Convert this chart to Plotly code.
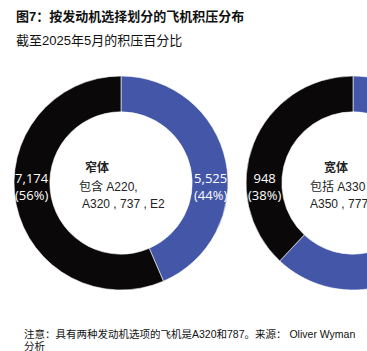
import plotly.graph_objects as go

# ---- data ----
categories = ["双发动机选项", "单发动机选项"]
narrow_values = [5525, 7174]     # blue, black
wide_values = [1547, 948]        # blue, black
narrow_pct = [44, 56]
wide_pct = [62, 38]
colors = ["#4356A7", "#0A0808"]

title = "图7：按发动机选择划分的飞机积压分布"
subtitle = "截至2025年5月的积压百分比"
footnote_lines = ["注意：具有两种发动机选项的飞机是A320和787。来源： Oliver Wyman", "分析"]

W, H = 470, 351
CJK = "Liberation Sans, Noto Sans CJK SC"

def px_x(x):
    return x / W

def px_y(y):
    return 1 - y / H

cy, r = 183, 107
fig = go.Figure()
for vals, cx in [(narrow_values, 121), (wide_values, 353)]:
    fig.add_trace(go.Pie(
        labels=categories, values=vals, hole=0.665, sort=False,
        direction="clockwise", rotation=0,
        marker=dict(colors=colors, line=dict(color="white", width=0.6)),
        textinfo="none", hoverinfo="skip", showlegend=False,
        domain=dict(x=[px_x(cx - r), px_x(cx + r)], y=[px_y(cy + r), px_y(cy - r)]),
    ))

annotations = []
def add_text(x, y, text, size=12, color="#222", bold=False, xanchor="left", family=CJK):
    annotations.append(dict(
        x=px_x(x), y=px_y(y), xref="paper", yref="paper", text=f"<b>{text}</b>" if bold else text,
        showarrow=False, xanchor=xanchor, yanchor="middle", align=xanchor if xanchor != "center" else "center",
        font=dict(size=size, color=color, family=family)))

# slice value labels
label_font = "Open Sans"
add_text(32, 187, f"{narrow_values[1]:,}<br>({narrow_pct[1]}%)", 13, "white", xanchor="center", family=label_font)
add_text(210, 187, f"{narrow_values[0]:,}<br>({narrow_pct[0]}%)", 13, "white", xanchor="center", family=label_font)
add_text(264, 187, f"{wide_values[1]:,}<br>({wide_pct[1]}%)", 13, "white", xanchor="center", family=label_font)

# center texts
add_text(83, 167, "窄体", 12, "#222", bold=True)
add_text(77, 187, "包含 A220,", 12)
add_text(80, 204, "A320 , 737 , E2", 12)
add_text(322, 167, "宽体", 12, "#222", bold=True)
add_text(308, 187, "包括 A330", 12)
add_text(308, 204, "A350 , 777", 12)

# titles
add_text(14, 16, title, 13, "#111", bold=True)
add_text(14, 40, subtitle, 13, "#111")
add_text(22, 334, footnote_lines[0], 10.5, "#111")
add_text(22, 346, footnote_lines[1], 10.5, "#111")

fig.update_layout(
    width=W, height=H, margin=dict(l=0, r=0, t=0, b=0),
    paper_bgcolor="white", plot_bgcolor="white",
    annotations=annotations,
)

fig.write_html("out.html", config={"displayModeBar": False},
               post_script="document.body.style.overflow='hidden';document.documentElement.style.overflow='hidden';")
